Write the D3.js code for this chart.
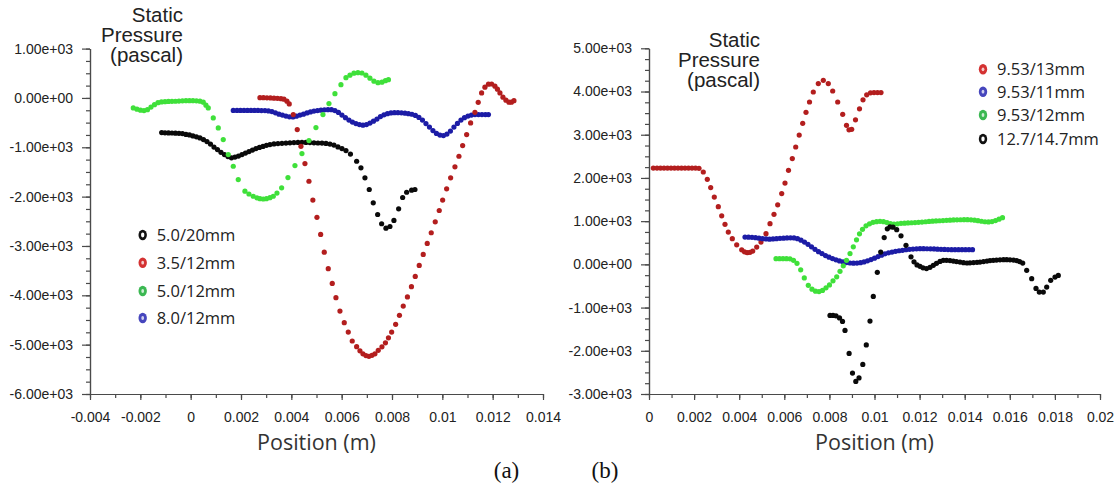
<!DOCTYPE html>
<html><head><meta charset="utf-8">
<script src="https://cdn.jsdelivr.net/npm/d3@7"></script>
<style>
html,body{margin:0;padding:0;background:#fff;}
svg{display:block;}
</style></head><body>
<svg id="chart" width="1118" height="488"></svg>
<script>
// ---------------- DATA (x in mm, y in Pa) ----------------
// Panel (a)
const a_black_5_0_20 = [[-1.152,-702],[-1.021,-706],[-0.882,-708],[-0.743,-710],[-0.604,-714],[-0.465,-718],[-0.326,-723],[-0.187,-739],[-0.048,-749],[0.091,-769],[0.230,-789],[0.369,-810],[0.509,-844],[0.648,-884],[0.787,-935],[0.926,-996],[1.065,-1046],[1.204,-1103],[1.343,-1148],[1.482,-1188],[1.621,-1214],[1.760,-1198],[1.899,-1178],[2.038,-1148],[2.177,-1117],[2.316,-1087],[2.455,-1057],[2.594,-1026],[2.733,-1002],[2.873,-982],[3.012,-961],[3.151,-945],[3.310,-931],[3.468,-925],[3.627,-919],[3.786,-915],[3.945,-909],[4.104,-905],[4.263,-901],[4.422,-899],[4.581,-901],[4.740,-905],[4.899,-909],[5.058,-913],[5.217,-915],[5.376,-921],[5.535,-935],[5.694,-955],[5.853,-992],[6.012,-1026],[6.171,-1067],[6.349,-1138],[6.595,-1283],[6.766,-1417],[6.925,-1619],[7.096,-1856],[7.255,-2125],[7.430,-2362],[7.588,-2550],[7.759,-2639],[7.918,-2605],[8.077,-2483],[8.264,-2247],[8.423,-2018],[8.582,-1911],[8.780,-1870],[8.912,-1856]];
const a_red_3_5_12 = [[2.753,6],[2.892,6],[3.031,2],[3.170,0],[3.310,-4],[3.449,-8],[3.588,-14],[3.707,-24],[3.826,-65],[3.917,-121],[4.076,-338],[4.235,-642],[4.382,-980],[4.541,-1330],[4.700,-1688],[4.855,-2069],[5.018,-2419],[5.165,-2767],[5.308,-3125],[5.467,-3461],[5.626,-3759],[5.773,-4048],[5.932,-4319],[6.103,-4554],[6.262,-4744],[6.420,-4926],[6.595,-5040],[6.726,-5125],[6.846,-5186],[6.965,-5222],[7.084,-5236],[7.203,-5216],[7.322,-5186],[7.453,-5115],[7.601,-5044],[7.739,-4963],[7.859,-4862],[7.986,-4744],[8.145,-4588],[8.296,-4406],[8.447,-4218],[8.613,-4032],[8.772,-3825],[8.924,-3617],[9.082,-3394],[9.241,-3172],[9.400,-2949],[9.559,-2732],[9.718,-2510],[9.877,-2281],[10.012,-2069],[10.171,-1842],[10.330,-1619],[10.501,-1397],[10.660,-1182],[10.807,-965],[10.966,-743],[11.124,-506],[11.295,-291],[11.426,-89],[11.561,101],[11.692,219],[11.832,279],[11.959,283],[12.090,239],[12.189,178],[12.289,101],[12.408,16],[12.527,-45],[12.646,-85],[12.745,-85],[12.845,-55]];
const a_green_5_0_12 = [[-2.281,-202],[-2.134,-227],[-1.994,-247],[-1.855,-257],[-1.716,-237],[-1.577,-186],[-1.438,-136],[-1.299,-95],[-1.160,-81],[-1.021,-75],[-0.882,-71],[-0.743,-69],[-0.604,-67],[-0.465,-63],[-0.326,-59],[-0.187,-55],[-0.048,-55],[0.091,-55],[0.230,-59],[0.369,-65],[0.501,-85],[0.608,-146],[0.699,-202],[0.898,-405],[1.097,-607],[1.295,-844],[1.494,-1148],[1.693,-1384],[1.891,-1654],[2.157,-1890],[2.316,-1947],[2.487,-1992],[2.634,-2024],[2.753,-2042],[2.884,-2048],[3.012,-2042],[3.151,-2022],[3.282,-1992],[3.429,-1927],[3.615,-1822],[3.866,-1613],[4.144,-1370],[4.422,-1127],[4.700,-864],[4.978,-601],[5.256,-338],[5.495,-115],[5.733,87],[5.971,269],[6.170,411],[6.329,461],[6.488,502],[6.647,512],[6.806,506],[6.965,461],[7.124,401],[7.283,340],[7.442,310],[7.601,320],[7.739,350],[7.859,370]];
const a_blue_8_0_12 = [[1.693,-253],[1.840,-253],[1.979,-253],[2.118,-253],[2.257,-253],[2.396,-253],[2.535,-253],[2.674,-253],[2.813,-255],[2.952,-257],[3.091,-263],[3.230,-277],[3.369,-302],[3.508,-328],[3.647,-348],[3.786,-368],[3.925,-383],[4.064,-385],[4.203,-370],[4.342,-348],[4.482,-328],[4.621,-304],[4.760,-283],[4.899,-267],[5.038,-257],[5.177,-247],[5.316,-241],[5.455,-237],[5.594,-237],[5.733,-257],[5.872,-293],[6.011,-348],[6.150,-399],[6.289,-449],[6.428,-490],[6.567,-520],[6.706,-540],[6.846,-551],[6.985,-540],[7.124,-510],[7.263,-470],[7.402,-429],[7.541,-378],[7.680,-342],[7.819,-318],[7.958,-304],[8.097,-298],[8.236,-298],[8.375,-302],[8.514,-308],[8.653,-318],[8.792,-330],[8.931,-354],[9.070,-395],[9.210,-449],[9.349,-520],[9.488,-591],[9.627,-662],[9.766,-719],[9.905,-753],[10.044,-763],[10.183,-733],[10.322,-672],[10.461,-591],[10.600,-516],[10.739,-449],[10.878,-399],[11.017,-368],[11.156,-348],[11.295,-338],[11.434,-338],[11.573,-338],[11.712,-338],[11.832,-338]];

// Panel (b)
const b_red_9_53_13 = [[0.191,2229],[0.355,2229],[0.510,2229],[0.665,2229],[0.820,2229],[0.976,2229],[1.131,2229],[1.286,2229],[1.441,2229],[1.596,2229],[1.752,2229],[1.907,2229],[2.062,2229],[2.217,2222],[2.408,2137],[2.585,1968],[2.736,1776],[2.896,1558],[3.073,1336],[3.224,1123],[3.370,926],[3.517,748],[3.694,595],[3.889,451],[4.111,336],[4.235,289],[4.359,271],[4.479,278],[4.599,308],[4.776,400],[4.967,516],[5.188,711],[5.366,942],[5.543,1158],[5.707,1377],[5.885,1637],[6.031,1882],[6.186,2176],[6.355,2447],[6.506,2716],[6.661,2991],[6.816,3264],[6.962,3519],[7.118,3757],[7.286,3989],[7.508,4183],[7.730,4260],[7.951,4183],[8.146,4012],[8.368,3757],[8.590,3473],[8.758,3218],[8.869,3114],[8.989,3125],[9.157,3345],[9.335,3600],[9.490,3808],[9.654,3924],[9.823,3970],[9.978,3975],[10.133,3975],[10.288,3975]];
const b_blue_9_53_11 = [[4.257,632],[4.412,630],[4.568,625],[4.723,618],[4.878,607],[5.033,595],[5.188,588],[5.344,583],[5.499,588],[5.654,595],[5.809,602],[5.965,607],[6.120,611],[6.275,613],[6.430,611],[6.585,595],[6.741,560],[6.896,516],[7.051,463],[7.206,405],[7.361,347],[7.517,294],[7.672,248],[7.827,204],[7.982,167],[8.137,134],[8.293,104],[8.448,79],[8.603,58],[8.758,42],[8.914,32],[9.069,28],[9.224,30],[9.379,39],[9.534,56],[9.690,81],[9.845,111],[10.000,144],[10.155,181],[10.310,213],[10.466,243],[10.621,266],[10.776,285],[10.931,301],[11.086,315],[11.242,326],[11.397,338],[11.552,347],[11.707,354],[11.863,359],[12.018,363],[12.173,363],[12.328,361],[12.483,359],[12.639,357],[12.794,352],[12.949,347],[13.104,345],[13.259,343],[13.415,340],[13.570,340],[13.725,340],[13.880,340],[14.035,340],[14.191,340],[14.346,340]];
const b_green_9_53_12 = [[5.632,132],[5.787,132],[5.942,132],[6.098,132],[6.253,127],[6.408,93],[6.563,23],[6.727,-127],[6.887,-313],[7.064,-486],[7.228,-574],[7.384,-620],[7.539,-630],[7.694,-602],[7.849,-544],[8.004,-475],[8.160,-382],[8.324,-289],[8.470,-162],[8.616,-35],[8.758,93],[8.914,248],[9.060,405],[9.202,567],[9.335,706],[9.468,810],[9.623,891],[9.778,938],[9.933,972],[10.089,988],[10.244,995],[10.399,988],[10.554,968],[10.710,942],[10.865,931],[11.020,938],[11.175,949],[11.330,954],[11.486,958],[11.641,963],[11.796,968],[11.951,972],[12.106,979],[12.262,986],[12.417,993],[12.572,1000],[12.727,1005],[12.882,1009],[13.038,1014],[13.193,1019],[13.348,1023],[13.503,1028],[13.659,1030],[13.814,1032],[13.969,1035],[14.124,1035],[14.279,1030],[14.435,1023],[14.590,1012],[14.745,998],[14.900,986],[15.055,982],[15.211,991],[15.366,1014],[15.521,1046],[15.676,1081]];
const b_black_12_7_14_7 = [[8.027,-1181],[8.160,-1181],[8.293,-1192],[8.448,-1239],[8.581,-1320],[8.692,-1528],[8.874,-2060],[9.024,-2516],[9.171,-2709],[9.313,-2628],[9.481,-2315],[9.636,-1864],[9.800,-1313],[9.947,-741],[10.124,-185],[10.275,285],[10.430,620],[10.568,822],[10.687,868],[10.820,861],[10.984,803],[11.175,660],[11.397,440],[11.619,174],[11.752,58],[11.885,-12],[12.018,-46],[12.151,-81],[12.306,-97],[12.461,-69],[12.608,-23],[12.749,23],[12.905,69],[13.051,93],[13.193,93],[13.348,88],[13.494,76],[13.636,65],[13.792,53],[13.947,39],[14.102,32],[14.235,35],[14.390,42],[14.545,46],[14.678,53],[14.834,65],[14.989,76],[15.122,88],[15.268,93],[15.410,100],[15.565,104],[15.721,109],[15.863,109],[16.009,104],[16.164,100],[16.306,88],[16.435,65],[16.572,30],[16.749,-139],[16.971,-331],[17.162,-556],[17.308,-641],[17.486,-641],[17.636,-526],[17.814,-370],[18.004,-294],[18.151,-255]];

// Labels / ticks
const legendA = ["5.0/20mm", "3.5/12mm", "5.0/12mm", "8.0/12mm"];
const legendB = ["9.53/13mm", "9.53/11mm", "9.53/12mm", "12.7/14.7mm"];
const yTicksA = [1000, 0, -1000, -2000, -3000, -4000, -5000, -6000];
const xTicksA = [-0.004, -0.002, 0, 0.002, 0.004, 0.006, 0.008, 0.01, 0.012, 0.014];
const yTicksB = [5000, 4000, 3000, 2000, 1000, 0, -1000, -2000, -3000];
const xTicksB = [0, 0.002, 0.004, 0.006, 0.008, 0.01, 0.012, 0.014, 0.016, 0.018, 0.02];
const yTitle = ["Static", "Pressure", "(pascal)"];
const xTitle = "Position (m)";
const captions = ["(a)", "(b)"];

// ---------------- DRAW ----------------
const svg = d3.select("#chart");
const COL = {black:"#0a0a0a", red:"#b31e1e", green:"#3fe03a", blue:"#1c1ca6"};
const LEGCOL = {black:"#111", red:"#d43232", green:"#3bb852", blue:"#4646bd"};
const expFmt = v => v.toExponential(2).replace(/e([+-])(\d)$/, "e$10$2");
const posFmt = v => String(+v.toFixed(3));

function panel(cfg) {
  const x = d3.scaleLinear().domain(cfg.xDomain).range(cfg.xRange);
  const y = d3.scaleLinear().domain(cfg.yDomain).range(cfg.yRange);
  const g = svg.append("g");
  const x0 = cfg.xRange[0], y0 = cfg.yRange[0];

  const gyMin = g.append("g").attr("transform", `translate(${x0},0)`)
    .call(d3.axisLeft(y).tickValues(cfg.yMinor).tickSize(4).tickSizeOuter(0).tickFormat(""));
  const gy = g.append("g").attr("transform", `translate(${x0},0)`)
    .call(d3.axisLeft(y).tickValues(cfg.yTicks).tickSize(8).tickSizeOuter(0).tickPadding(9).tickFormat(expFmt));
  const gxMin = g.append("g").attr("transform", `translate(0,${y0})`)
    .call(d3.axisBottom(x).tickValues(cfg.xMinor).tickSize(4).tickSizeOuter(0).tickFormat(""));
  const gx = g.append("g").attr("transform", `translate(0,${y0})`)
    .call(d3.axisBottom(x).tickValues(cfg.xTicks).tickSize(6).tickSizeOuter(0).tickPadding(12).tickFormat(posFmt));
  [gyMin, gy, gxMin, gx].forEach(a => {
    a.selectAll("path,line").attr("stroke", "#4a4a4a").attr("stroke-width", 1.2);
    a.selectAll("text").attr("fill", "#222").style("font-family", "'Liberation Sans', Arial, sans-serif").style("font-size", "14px");
  });

  // series
  cfg.series.forEach(s => {
    g.append("g").selectAll("circle").data(s.data).join("circle")
      .attr("cx", d => x(d[0] / 1000)).attr("cy", d => y(d[1]))
      .attr("r", 2.6).attr("fill", COL[s.color]);
  });

  // y title
  const t = g.append("text").attr("text-anchor", "end")
    .style("font-family", "'Liberation Sans', Arial, sans-serif").style("font-size", "20.5px").attr("fill", "#222");
  yTitle.forEach((line, i) => t.append("tspan").attr("x", cfg.titleX).attr("y", cfg.titleY + i * 20).text(line));

  // x title
  g.append("text").attr("x", (cfg.xRange[0] + cfg.xRange[1]) / 2).attr("y", 450)
    .attr("text-anchor", "middle").style("font-family", "'Open Sans', sans-serif").style("font-size", "21.5px")
    .attr("fill", "#333").text(xTitle);

  // legend
  const lg = g.append("g");
  cfg.legend.forEach((lab, i) => {
    const c = cfg.legendColors[i];
    const cy = cfg.legY[i];
    lg.append("ellipse").attr("cx", cfg.legX).attr("cy", cy).attr("rx", 4.2).attr("ry", 5.2).attr("fill", LEGCOL[c]);
    if (c === "black") {
      lg.append("ellipse").attr("cx", cfg.legX).attr("cy", cy).attr("rx", 1.7).attr("ry", 2.4).attr("fill", "#fff");
    } else {
      lg.append("ellipse").attr("cx", cfg.legX).attr("cy", cy).attr("rx", 1.4).attr("ry", 1.9).attr("fill", "#fff").attr("opacity", 0.75);
    }
    lg.append("text").attr("x", cfg.legX + 14).attr("y", cy).attr("dy", "0.36em")
      .style("font-family", "'Open Sans', sans-serif").style("font-size", "16.5px").attr("fill", "#222").text(lab);
  });
}

panel({
  xDomain: [-0.004, 0.014], xRange: [90, 543],
  yDomain: [-6000, 1000], yRange: [394, 48.6],
  yTicks: yTicksA, yMinor: d3.range(-6000, 1001, 250),
  xTicks: xTicksA, xMinor: d3.range(-4, 14.5, 1).map(v => v / 1000),
  series: [
    {data: a_blue_8_0_12, color: "blue"},
    {data: a_black_5_0_20, color: "black"},
    {data: a_green_5_0_12, color: "green"},
    {data: a_red_3_5_12, color: "red"}
  ],
  titleX: 183, titleY: 21.5,
  legend: legendA, legendColors: ["black", "red", "green", "blue"],
  legX: 142.7, legY: [235, 262.7, 291, 318]
});

panel({
  xDomain: [0, 0.02], xRange: [649, 1100],
  yDomain: [-3000, 5000], yRange: [394, 48.3],
  yTicks: yTicksB, yMinor: d3.range(-3000, 5001, 250),
  xTicks: xTicksB, xMinor: d3.range(0, 20.5, 1).map(v => v / 1000),
  series: [
    {data: b_red_9_53_13, color: "red"},
    {data: b_blue_9_53_11, color: "blue"},
    {data: b_green_9_53_12, color: "green"},
    {data: b_black_12_7_14_7, color: "black"}
  ],
  titleX: 760, titleY: 46.5,
  legend: legendB, legendColors: ["red", "blue", "green", "black"],
  legX: 983, legY: [69.3, 91.7, 115, 139]
});

// captions
svg.selectAll("text.cap").data(captions).join("text").attr("class", "cap")
  .attr("x", (d, i) => [506.5, 605][i]).attr("y", 478).attr("text-anchor", "middle")
  .style("font-family", "'Liberation Serif', 'Times New Roman', serif").style("font-size", "23px")
  .attr("fill", "#111").text(d => d);
</script>
</body></html>
